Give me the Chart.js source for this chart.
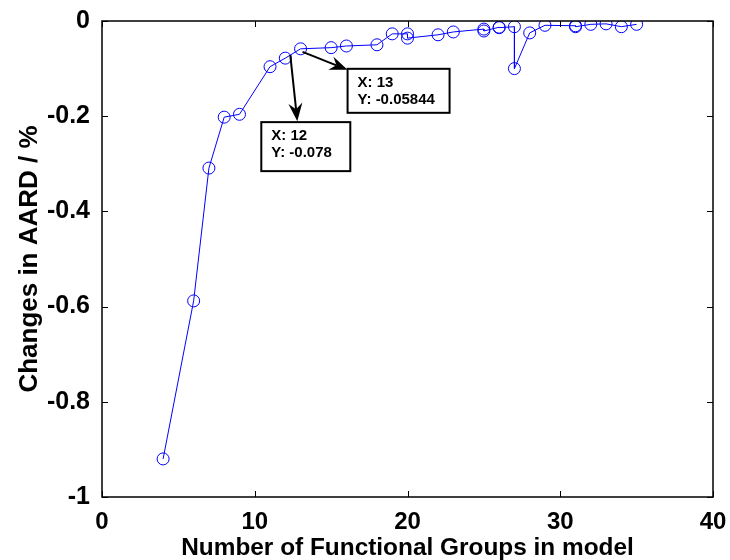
<!DOCTYPE html>
<html>
<head>
<meta charset="utf-8">
<script src="https://cdn.jsdelivr.net/npm/chart.js@4"></script>
<style>
  html, body { margin: 0; padding: 0; background: #fff; }
  canvas { display: block; }
</style>
</head>
<body>
<canvas id="aard" width="730" height="560"></canvas>
<script>
// number of functional groups in the model vs change of AARD
const groups = [4, 6, 7, 8, 9, 11, 12, 13, 15, 16, 18, 19, 20, 20, 22, 23, 25, 25, 26, 26,
                27, 27, 28, 29, 31, 31, 32, 33, 34, 35];
const aardChange = [-0.92, -0.588, -0.309, -0.202, -0.196, -0.096, -0.078, -0.05844, -0.056, -0.0525,
                    -0.050, -0.027, -0.027, -0.036, -0.029, -0.023, -0.017, -0.021, -0.013, -0.014,
                    -0.012, -0.100, -0.025, -0.009, -0.010, -0.012, -0.007, -0.006, -0.012, -0.007];
const xTicks = [0, 10, 20, 30, 40];
const yTicks = [-1, -0.8, -0.6, -0.4, -0.2, 0];

// data tips shown on the plot (index into the series)
const dataTips = [7, 6];

const FONT = '"Liberation Sans", Arial, Helvetica, sans-serif';

// MATLAB style frame with inward ticks + data tip boxes
const framePlugin = {
    id: 'frame',
    afterDatasetsDraw(chart) {
        const { ctx, chartArea: a, scales } = chart;
        ctx.save();
        ctx.strokeStyle = '#000';
        ctx.lineWidth = 1.5;
        ctx.strokeRect(a.left, a.top, a.right - a.left, a.bottom - a.top);
        ctx.lineWidth = 1;
        const t = 6;
        ctx.beginPath();
        xTicks.forEach(v => {
            const px = Math.round(scales.x.getPixelForValue(v)) + 0.5;
            ctx.moveTo(px, a.bottom); ctx.lineTo(px, a.bottom - t);
            ctx.moveTo(px, a.top); ctx.lineTo(px, a.top + t);
        });
        yTicks.forEach(v => {
            const py = Math.round(scales.y.getPixelForValue(v)) + 0.5;
            ctx.moveTo(a.left, py); ctx.lineTo(a.left + t, py);
            ctx.moveTo(a.right, py); ctx.lineTo(a.right - t, py);
        });
        ctx.stroke();

        // data tips
        const boxes = [
            { dx: 47, dy: 20, w: 102, h: 44, from: [2, 3], tip: [47, 21] },
            { dx: -24, dy: 64, w: 89, h: 49, from: [5, -3], tip: [12, 63] }
        ];
        dataTips.forEach((idx, i) => {
            const px = scales.x.getPixelForValue(groups[idx]);
            const py = scales.y.getPixelForValue(aardChange[idx]);
            const b = boxes[i];
            const x0 = px + b.from[0], y0 = py + b.from[1];
            const x1 = px + b.tip[0], y1 = py + b.tip[1];
            drawArrow(ctx, x0, y0, x1, y1);
            const bx = px + b.dx, by = py + b.dy;
            ctx.fillStyle = '#fff';
            ctx.fillRect(bx, by, b.w, b.h);
            ctx.lineWidth = 2;
            ctx.strokeStyle = '#000';
            ctx.strokeRect(bx, by, b.w, b.h);
            ctx.fillStyle = '#000';
            ctx.font = 'bold 15px ' + FONT;
            ctx.textAlign = 'left';
            ctx.textBaseline = 'middle';
            ctx.fillText('X: ' + groups[idx], bx + 10, by + 14);
            ctx.fillText('Y: ' + aardChange[idx], bx + 10, by + 31);
        });
        ctx.restore();
    }
};

function drawArrow(ctx, x0, y0, x1, y1) {
    const ang = Math.atan2(y1 - y0, x1 - x0);
    const len = 18, half = 7, back = 12;
    ctx.strokeStyle = '#000';
    ctx.lineWidth = 2;
    ctx.beginPath();
    ctx.moveTo(x0, y0);
    ctx.lineTo(x1 - Math.cos(ang) * back, y1 - Math.sin(ang) * back);
    ctx.stroke();
    const bxp = x1 - Math.cos(ang) * len, byp = y1 - Math.sin(ang) * len;
    const nx = -Math.sin(ang), ny = Math.cos(ang);
    ctx.fillStyle = '#000';
    ctx.beginPath();
    ctx.moveTo(x1, y1);
    ctx.lineTo(bxp + nx * half, byp + ny * half);
    ctx.lineTo(x1 - Math.cos(ang) * back, y1 - Math.sin(ang) * back);
    ctx.lineTo(bxp - nx * half, byp - ny * half);
    ctx.closePath();
    ctx.fill();
}

const ctx = document.getElementById('aard').getContext('2d');
new Chart(ctx, {
    type: 'line',
    data: {
        datasets: [{
            data: groups.map((g, i) => ({ x: g, y: aardChange[i] })),
            borderColor: '#0000ff',
            borderWidth: 1,
            pointStyle: 'circle',
            pointRadius: 6,
            pointBorderColor: '#0000ff',
            pointBackgroundColor: 'rgba(0,0,0,0)',
            pointBorderWidth: 1,
            fill: false,
            tension: 0
        }]
    },
    options: {
        responsive: false,
        animation: false,
        layout: { padding: { top: 21, right: 17, left: 0, bottom: 0 } },
        plugins: {
            legend: { display: false },
            tooltip: { enabled: false }
        },
        scales: {
            x: {
                type: 'linear',
                min: 0, max: 40,
                afterBuildTicks: s => { s.ticks = xTicks.map(v => ({ value: v })); },
                afterFit: s => { s.height = 63; },
                grid: { display: false },
                border: { display: false },
                ticks: {
                    color: '#000',
                    padding: 3,
                    font: { family: FONT, size: 24, weight: 'bold' },
                    callback: v => String(v)
                },
                title: {
                    display: true,
                    text: 'Number of Functional Groups in model',
                    color: '#000',
                    padding: { top: 0, bottom: -3 },
                    font: { family: FONT, size: 24.4, weight: 'bold' }
                }
            },
            y: {
                min: -1, max: 0,
                afterBuildTicks: s => { s.ticks = yTicks.map(v => ({ value: v })); },
                afterFit: s => { s.width = 102; },
                grid: { display: false },
                border: { display: false },
                ticks: {
                    color: '#000',
                    padding: 4,
                    font: { family: FONT, size: 25, weight: 'bold' },
                    callback: v => String(Math.round(v * 10) / 10)
                },
                title: {
                    display: true,
                    text: 'Changes in AARD / %',
                    color: '#000',
                    padding: { top: 14, bottom: 0 },
                    font: { family: FONT, size: 26, weight: 'bold' }
                }
            }
        }
    },
    plugins: [framePlugin]
});
</script>
</body>
</html>
